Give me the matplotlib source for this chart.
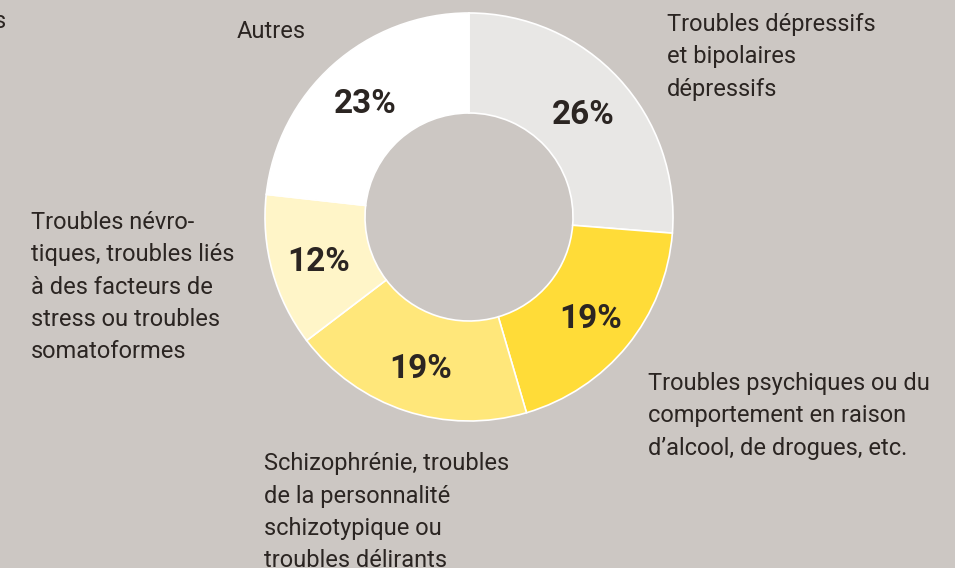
import matplotlib.pyplot as plt

plt.rcParams['font.family'] = ['Roboto', 'DejaVu Sans']

# =========================
# Données
# =========================

parts = [26, 19, 19, 12, 23]
pct_labels = ["26%", "19%", "19%", "12%", "23%"]
couleurs = ["#e8e7e5", "#ffdc38", "#ffe77a", "#fff5c8", "#ffffff"]
categories = [
    "Troubles dépressifs\net bipolaires\ndépressifs",
    "Troubles psychiques ou du\ncomportement en raison\nd’alcool, de drogues, etc.",
    "Schizophrénie, troubles\nde la personnalité\nschizotypique ou\ntroubles délirants",
    "Troubles névro-\ntiques, troubles liés\nà des facteurs de\nstress ou troubles\nsomatoformes",
    "Autres",
]
# position (px, x gauche / ligne de base de la 1re ligne) de chaque libellé
pos_labels = [(667, 32), (648, 391), (264, 472), (31, 231), (237, 38)]

FOND = "#ccc7c3"
TEXTE = "#2b2522"
W, H = 955, 568
INTERLIGNE = 31.8  # px entre deux lignes de base

fig = plt.figure(figsize=(W / 100, H / 100), dpi=100, facecolor=FOND)
ax = fig.add_axes([0, 0, 1, 1])
ax.set_facecolor(FOND)

wedges, _, autotexts = ax.pie(
    parts,
    colors=couleurs,
    startangle=90,
    counterclock=False,
    center=(469, H - 217),
    radius=204,
    autopct="%d",
    pctdistance=0.765,
    wedgeprops=dict(width=100, edgecolor="white", linewidth=1.2),
    frame=True,
)
ax.set_xlim(0, W)
ax.set_ylim(0, H)
ax.set_aspect("equal")
ax.axis("off")

for t, lab in zip(autotexts, pct_labels):
    t.set_text(lab)
    t.set_fontsize(24)
    t.set_fontweight("bold")
    t.set_color(TEXTE)
    t.set_va("center_baseline")

# va="baseline" aligne la dernière ligne : on décale selon le nombre de lignes
for (x, y), txt in zip(pos_labels, categories):
    n = txt.count("\n")
    ax.text(x, H - (y + n * INTERLIGNE), txt, ha="left", va="baseline",
            fontsize=17, color=TEXTE, linespacing=1.519)

# fragment de texte coupé en haut à gauche
ax.text(6, H - 28, "s", ha="right", va="baseline", fontsize=17, color=TEXTE)

fig.savefig("out.png", dpi=100, facecolor=FOND)
